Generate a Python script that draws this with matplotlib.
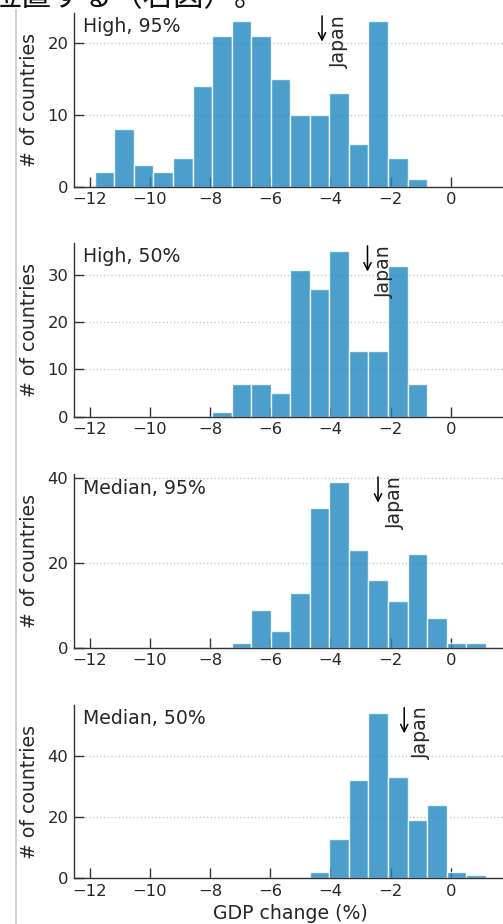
import numpy as np
import matplotlib.pyplot as plt
from matplotlib.lines import Line2D

plt.rcParams['font.family'] = ['DejaVu Sans']

# shared bin edges for all four scenarios (GDP change, %)
bin_lo = -11.83
bin_hi = 1.16
n_bins = 20

# number of countries in each bin
high_95 = [2, 8, 3, 2, 4, 14, 21, 23, 21, 15, 10, 10, 13, 6, 23, 4, 1, 0, 0, 0]
high_50 = [0, 0, 0, 0, 0, 0, 1, 7, 7, 5, 31, 27, 35, 14, 14, 32, 7, 0, 0, 0]
median_95 = [0, 0, 0, 0, 0, 0, 0, 1, 9, 4, 13, 33, 39, 23, 16, 11, 22, 7, 1, 1]
median_50 = [0, 0, 0, 0, 0, 0, 0, 0, 0, 0, 0, 2, 13, 32, 54, 33, 19, 24, 2, 1]

panel_titles = ['High, 95%', 'High, 50%', 'Median, 95%', 'Median, 50%']
japan_values = [-4.28, -2.77, -2.42, -1.55]
x_ticks = [-12, -10, -8, -6, -4, -2, 0]
y_ticks = [[0, 10, 20], [0, 10, 20, 30], [0, 20, 40], [0, 20, 40]]

edges = np.linspace(bin_lo, bin_hi, n_bins + 1)
series = [high_95, high_50, median_95, median_50]

text_col = '#262626'
bar_col = '#1f87be'

fig = plt.figure(figsize=(5.03, 9.24), dpi=100)

# bottom of each axes, in figure fraction
bottoms = [0.7980, 0.5491, 0.2990, 0.0494]

for i, counts in enumerate(series):
    ax = fig.add_axes([0.1471, bottoms[i], 0.8588, 0.1878])
    ax.bar(edges[:-1], counts, width=np.diff(edges), align='edge',
           color=bar_col, alpha=0.8, edgecolor='white', linewidth=1.0, zorder=2)
    ax.set_axisbelow(True)
    ax.set_xlim(-12.52, 1.83)
    ax.set_xticks(x_ticks)
    ax.set_xticklabels([f'\u2212{abs(t)}' if t < 0 else str(t) for t in x_ticks])
    ax.set_yticks(y_ticks[i])
    ax.grid(axis='y', linestyle=':', color='#c8c8c8', linewidth=1.0)
    ax.grid(axis='x', visible=False)
    for side in ('top', 'right'):
        ax.spines[side].set_visible(False)
    for side in ('left', 'bottom'):
        ax.spines[side].set_color('#333333')
        ax.spines[side].set_linewidth(1.0)
    ax.tick_params(direction='in', length=7, width=1.0, color='#333333',
                   labelsize=11.8, labelcolor=text_col, pad=4)
    ax.set_ylabel('# of countries', fontsize=13.6, color=text_col, labelpad=6)

    ax.text(0.02, 0.975, panel_titles[i], transform=ax.transAxes,
            ha='left', va='top', fontsize=13.6, color=text_col)

    jx = japan_values[i]
    ax.annotate('', xy=(jx, 0.82), xycoords=('data', 'axes fraction'),
                xytext=(jx, 1.0), textcoords=('data', 'axes fraction'),
                arrowprops=dict(arrowstyle='->', color='black', lw=1.1,
                                mutation_scale=13))
    ax.text(jx + 0.575, 0.99, 'Japan', transform=ax.get_xaxis_transform(),
            rotation=90, ha='center', va='top', fontsize=13.6, color=text_col)

    if i == len(series) - 1:
        ax.set_xlabel('GDP change (%)', fontsize=13.6, color=text_col, labelpad=4)

# page text and left border around the figure
fig.text(-0.02, 0.9935, '位置する（右図）。', fontsize=22, ha='left', va='baseline',
         family=['Noto Sans CJK JP', 'DejaVu Sans'], color='#111111')
fig.add_artist(Line2D([0.032, 0.032], [0.0, 0.989], transform=fig.transFigure,
                      color='#c8c8c8', linewidth=1.2))

fig.savefig('out.png', dpi=100)
